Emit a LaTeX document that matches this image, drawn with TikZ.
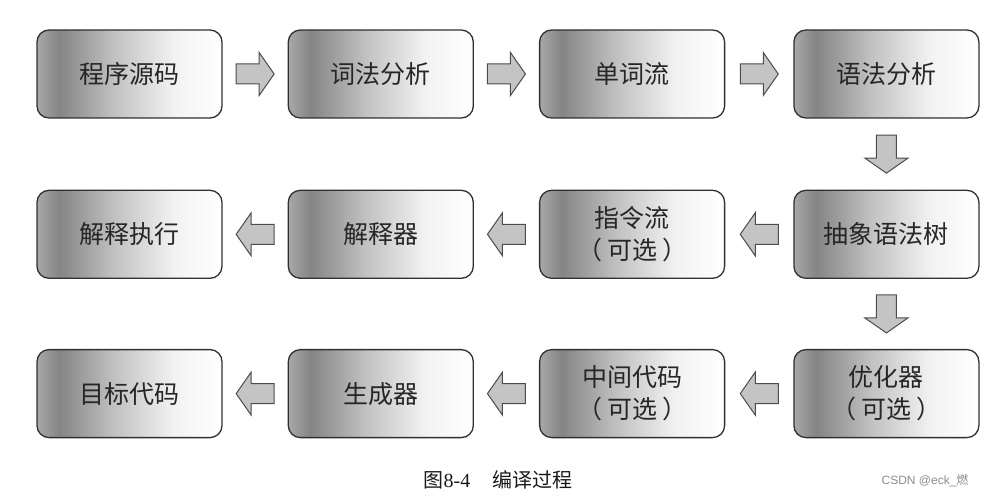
\documentclass[tikz,border=0pt]{standalone}
\usepackage{fontspec}
\setmainfont{Liberation Serif}
\setsansfont{Liberation Sans}
\newfontfamily\cjk{Noto Sans CJK SC}
\usetikzlibrary{positioning,calc}
\pgfdeclarehorizontalshading{stageshade}{100bp}{color(0bp)=(black!34); color(25bp)=(black!34); color(31bp)=(black!48); color(46bp)=(black!24); color(62bp)=(black!5); color(75bp)=(white); color(100bp)=(white)}
\definecolor{edgegray}{HTML}{303030}
\definecolor{arrowgray}{HTML}{C4C4C4}
\newcommand{\optpar}[1]{（\hspace{5pt}#1\hspace{5pt}）}
\tikzset{
  stage/.style={draw=edgegray, line width=1.3pt, rounded corners=12pt, shading=stageshade,
    minimum width=185pt, minimum height=88pt, inner sep=0pt, align=center,
    font=\cjk\fontsize{25}{32}\selectfont, text=black!85},
  pics/blockarr/.style={code={
    \draw[draw=black!70, fill=arrowgray, line width=1pt, line join=miter]
      (-19,-10) -- (4,-10) -- (4,-21.5) -- (19,0) -- (4,21.5) -- (4,10) -- (-19,10) -- cycle;}}
}
\begin{document}
\begin{tikzpicture}[x=1pt, y=-1pt]
  \useasboundingbox (0,0) rectangle (987,497);
  % first row
  \node[stage] (source) at (129.5,74) {程序源码};
  \node[stage, right=65pt of source] (lexer) {词法分析};
  \node[stage, right=65pt of lexer] (tokens) {单词流};
  \node[stage, right=68pt of tokens] (parser) {语法分析};
  % second row
  \node[stage, below=71pt of parser] (ast) {抽象语法树};
  \node[stage, left=68pt of ast] (instr) {指令流\\\optpar{可选}};
  \node[stage, left=65pt of instr] (interp) {解释器};
  \node[stage, left=65pt of interp] (exec) {解释执行};
  % third row
  \node[stage, below=70pt of ast] (opt) {优化器\\\optpar{可选}};
  \node[stage, left=68pt of opt] (ir) {中间代码\\\optpar{可选}};
  \node[stage, left=65pt of ir] (gen) {生成器};
  \node[stage, left=65pt of gen] (target) {目标代码};
  % block arrows
  \pic at ($(source.east)!0.5!(lexer.west)$) {blockarr};
  \pic at ($(lexer.east)!0.5!(tokens.west)$) {blockarr};
  \pic at ($(tokens.east)!0.5!(parser.west)$) {blockarr};
  \pic[rotate=-90] at ($(parser.south)!0.5!(ast.north)$) {blockarr};
  \pic[rotate=180] at ($(ast.west)!0.5!(instr.east)$) {blockarr};
  \pic[rotate=180] at ($(instr.west)!0.5!(interp.east)$) {blockarr};
  \pic[rotate=180] at ($(interp.west)!0.5!(exec.east)$) {blockarr};
  \pic[rotate=-90] at ($(ast.south)!0.5!(opt.north)$) {blockarr};
  \pic[rotate=180] at ($(opt.west)!0.5!(ir.east)$) {blockarr};
  \pic[rotate=180] at ($(ir.west)!0.5!(gen.east)$) {blockarr};
  \pic[rotate=180] at ($(gen.west)!0.5!(target.east)$) {blockarr};
  % caption
  \node[font=\fontsize{20}{24}\selectfont, text=black!90] (caption) at (498,480)
    {{\cjk 图}8-4\hspace{22pt}{\cjk 编译过程}};
  \node[font=\sffamily\fontsize{12}{14}\selectfont, text=black!45, anchor=east] (mark) at (972,481)
    {CSDN @eck\_{\cjk 燃}};
\end{tikzpicture}
\end{document}
